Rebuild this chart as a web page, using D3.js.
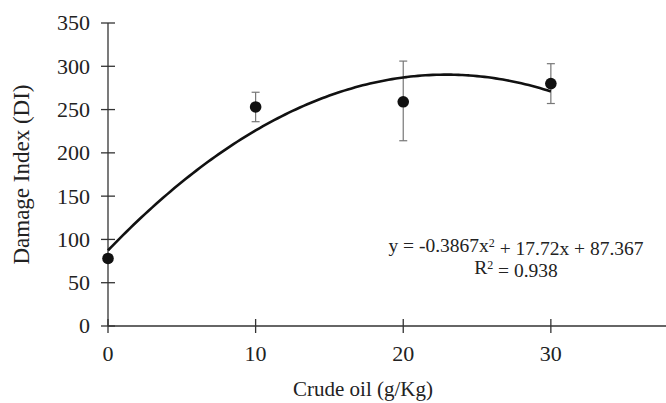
<!DOCTYPE html>
<html>
<head>
<meta charset="utf-8">
<script src="https://cdn.jsdelivr.net/npm/d3@7"></script>
<style>
  body { margin: 0; background: #fff; }
  text { font-family: "Liberation Serif", "Times New Roman", serif; fill: #222; }
</style>
</head>
<body>
<div id="vis-container"></div>
<script>
// data
const doses = [0, 10, 20, 30];
const damage = [78, 253, 259, 280];
const errLow = [76, 236, 214, 257];
const errHigh = [80, 270, 306, 303];
const xTicks = [0, 10, 20, 30];
const yTicks = [0, 50, 100, 150, 200, 250, 300, 350];
// fitted trend line coefficients (from the equation label)
const coef = { a: -0.3867, b: 17.72, c: 87.367 };

var width = 666, height = 403;
var margin = { top: 23, right: 0, bottom: 77, left: 108 };

var svg = d3.select("#vis-container")
  .append("svg")
  .attr("width", width)
  .attr("height", height);

var x = d3.scaleLinear().domain([0, 37.8]).range([margin.left, width - margin.right]);
var y = d3.scaleLinear().domain([0, 350]).range([height - margin.bottom, margin.top]);

// y axis
var yAxis = svg.append("g").attr("transform", "translate(" + margin.left + ",0)");
yAxis.append("line")
  .attr("x1", 0).attr("x2", 0)
  .attr("y1", y(0)).attr("y2", y(350))
  .attr("stroke", "#333").attr("stroke-width", 1.3);
yAxis.selectAll(".yt")
  .data(yTicks)
  .enter()
  .append("line")
  .attr("x1", -7).attr("x2", 7)
  .attr("y1", d => y(d)).attr("y2", d => y(d))
  .attr("stroke", "#333").attr("stroke-width", 1.3);
yAxis.selectAll("text")
  .data(yTicks)
  .enter()
  .append("text")
  .attr("x", -18)
  .attr("y", d => y(d))
  .attr("dy", "0.34em")
  .attr("text-anchor", "end")
  .style("font-size", "22px")
  .text(d => d);

// x axis
var xAxis = svg.append("g").attr("transform", "translate(0," + y(0) + ")");
xAxis.append("line")
  .attr("x1", x(0)).attr("x2", width)
  .attr("y1", 0).attr("y2", 0)
  .attr("stroke", "#333").attr("stroke-width", 1.3);
xAxis.selectAll(".xt")
  .data(xTicks)
  .enter()
  .append("line")
  .attr("x1", d => x(d)).attr("x2", d => x(d))
  .attr("y1", -7).attr("y2", 7)
  .attr("stroke", "#333").attr("stroke-width", 1.3);
xAxis.selectAll("text")
  .data(xTicks)
  .enter()
  .append("text")
  .attr("x", d => x(d))
  .attr("y", 35)
  .attr("text-anchor", "middle")
  .style("font-size", "22px")
  .text(d => d);

// axis titles
svg.append("text")
  .attr("x", 363)
  .attr("y", 396)
  .attr("text-anchor", "middle")
  .style("font-size", "21px")
  .text("Crude oil (g/Kg)");

svg.append("text")
  .attr("transform", "translate(29," + y(175) + ") rotate(-90)")
  .attr("text-anchor", "middle")
  .style("font-size", "23px")
  .text("Damage Index (DI)");

// error bars
var bars = svg.append("g").attr("stroke", "#777").attr("stroke-width", 1.2);
doses.forEach((d, i) => {
  bars.append("line")
    .attr("x1", x(d)).attr("x2", x(d))
    .attr("y1", y(errLow[i])).attr("y2", y(errHigh[i]));
  [errLow[i], errHigh[i]].forEach(v => {
    bars.append("line")
      .attr("x1", x(d) - 4).attr("x2", x(d) + 4)
      .attr("y1", y(v)).attr("y2", y(v));
  });
});

// trend line
var fitX = d3.range(0, 30.01, 0.25);
var line = d3.line()
  .x(d => x(d))
  .y(d => y(coef.a * d * d + coef.b * d + coef.c))
  .curve(d3.curveBasis);
svg.append("path")
  .datum(fitX)
  .attr("d", line)
  .attr("fill", "none")
  .attr("stroke", "#111")
  .attr("stroke-width", 2.6);

// points
svg.selectAll(".dot")
  .data(doses)
  .enter()
  .append("circle")
  .attr("cx", d => x(d))
  .attr("cy", (d, i) => y(damage[i]))
  .attr("r", 5.8)
  .attr("fill", "#111");

// equation
var eq = svg.append("text")
  .attr("x", 516)
  .attr("y", 252)
  .attr("text-anchor", "middle")
  .style("font-size", "19.5px");
eq.append("tspan").text("y = -0.3867x");
eq.append("tspan").attr("dy", "-0.4em").style("font-size", "12px").text("2");
eq.append("tspan").attr("dy", "0.4em").text(" + 17.72x + 87.367");

var r2 = svg.append("text")
  .attr("x", 516)
  .attr("y", 274)
  .attr("text-anchor", "middle")
  .style("font-size", "19.5px");
r2.append("tspan").text("R");
r2.append("tspan").attr("dy", "-0.4em").style("font-size", "12px").text("2");
r2.append("tspan").attr("dy", "0.4em").text(" = 0.938");
</script>
</body>
</html>
